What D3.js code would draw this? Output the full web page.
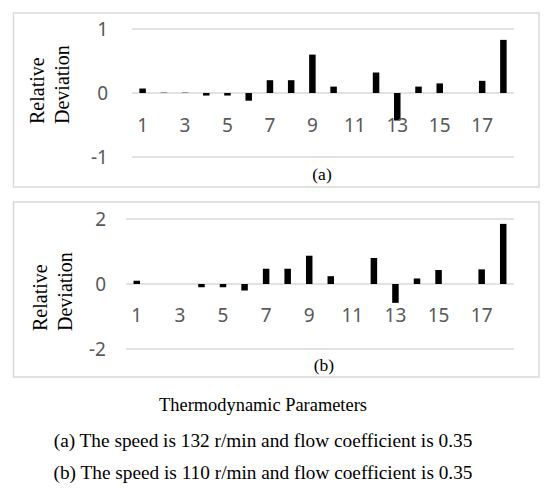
<!DOCTYPE html>
<html>
<head>
<meta charset="UTF-8">
<title>Relative Deviation</title>
<script src="https://d3js.org/d3.v7.min.js"></script>
<style>
    body { margin: 0; background: #fff; }
    .tick-label { font-family: "Noto Sans", sans-serif; font-size: 19px; fill: #595959; }
    .serif { font-family: "Liberation Serif", "Times New Roman", serif; fill: #000; }
</style>
</head>
<body>
<div id="chart"></div>
<script>
// parameters 1..18
const params = d3.range(1, 19);
const xTickLabels = ["1", "3", "5", "7", "9", "11", "13", "15", "17"];

// (a) 132 r/min, flow coefficient 0.35
const devA = [0.07, 0.005, 0.005, -0.04, -0.04, -0.12, 0.2, 0.2, 0.6, 0.1, 0, 0.32, -0.43, 0.1, 0.15, 0, 0.19, 0.83];
const yTicksA = [-1, 0, 1];

// (b) 110 r/min, flow coefficient 0.35
const devB = [0.1, 0, 0, -0.1, -0.1, -0.2, 0.47, 0.47, 0.87, 0.24, 0, 0.8, -0.58, 0.17, 0.43, 0, 0.45, 1.85];
const yTicksB = [-2, 0, 2];

const captions = [
    "Thermodynamic Parameters",
    "(a) The speed is 132 r/min and flow coefficient is 0.35",
    "(b) The speed is 110 r/min and flow coefficient is 0.35"
];

const width = 554, height = 499;

const svg = d3.select("#chart").append("svg")
    .attr("width", width)
    .attr("height", height);

svg.append("rect").attr("width", width).attr("height", height).attr("fill", "#fff");

function drawPanel(cfg) {
    const g = svg.append("g");

    // panel frame
    g.append("rect")
        .attr("x", 13.5).attr("y", cfg.top)
        .attr("width", 525.5).attr("height", cfg.bottom - cfg.top)
        .attr("fill", "none")
        .attr("stroke", "#d9d9d9")
        .attr("stroke-width", 1.5);

    const x = d3.scaleBand().domain(params).range(cfg.xRange).paddingInner(0);
    const y = d3.scaleLinear().domain(cfg.domain).range(cfg.yRange);

    // gridlines
    g.selectAll("line.grid")
        .data(cfg.ticks)
        .join("line")
        .attr("class", "grid")
        .attr("x1", cfg.xRange[0]).attr("x2", cfg.xRange[1])
        .attr("y1", d => y(d)).attr("y2", d => y(d))
        .attr("stroke", "#d9d9d9")
        .attr("stroke-width", 1.5);

    // y tick labels
    g.selectAll("text.ytick")
        .data(cfg.ticks)
        .join("text")
        .attr("class", "tick-label ytick")
        .attr("x", cfg.yLabelX)
        .attr("y", d => y(d))
        .attr("dy", "0.35em")
        .attr("text-anchor", "end")
        .text(d => d);

    // bars
    const bw = 6.5;
    g.selectAll("rect.bar")
        .data(cfg.values)
        .join("rect")
        .attr("class", "bar")
        .attr("x", (d, i) => x(params[i]) + x.bandwidth() / 2 - bw / 2)
        .attr("y", d => y(Math.max(0, d)))
        .attr("width", bw)
        .attr("height", d => Math.abs(y(d) - y(0)))
        .attr("fill", "#000");

    // x tick labels (odd parameters, sitting below the zero line)
    g.selectAll("text.xtick")
        .data(xTickLabels)
        .join("text")
        .attr("class", "tick-label xtick")
        .attr("x", d => x(+d) + x.bandwidth() / 2)
        .attr("y", y(0) + cfg.xLabelOffset)
        .attr("dy", "0.35em")
        .attr("text-anchor", "middle")
        .text(d => d);

    // axis title, two rotated lines
    ["Relative", "Deviation"].forEach((t, i) => {
        g.append("text")
            .attr("class", "serif")
            .attr("transform", `translate(${cfg.titleX[i]},${cfg.titleY}) rotate(-90)`)
            .attr("dy", "0.35em")
            .attr("font-size", 20)
            .attr("text-anchor", "start")
            .text(t);
    });

    // panel caption
    g.append("text")
        .attr("class", "serif")
        .attr("x", cfg.capX).attr("y", cfg.capY)
        .attr("dy", "0.35em")
        .attr("text-anchor", "middle")
        .attr("font-size", 17.5)
        .text(cfg.caption);
}

drawPanel({
    top: 13, bottom: 187,
    xRange: [132, 514], domain: [-1, 1], yRange: [157, 29],
    ticks: yTicksA, values: devA,
    yLabelX: 108, xLabelOffset: 32,
    titleX: [37, 62], titleY: 124,
    capX: 322, capY: 174, caption: "(a)"
});

drawPanel({
    top: 202, bottom: 377,
    xRange: [126, 514], domain: [-2, 2], yRange: [349, 219],
    ticks: yTicksB, values: devB,
    yLabelX: 106, xLabelOffset: 31,
    titleX: [40, 65], titleY: 331,
    capX: 324, capY: 365, caption: "(b)"
});

// bottom captions
svg.selectAll("text.caption")
    .data(captions)
    .join("text")
    .attr("class", "serif caption")
    .attr("x", 263)
    .attr("y", (d, i) => [405, 440, 472][i])
    .attr("dy", "0.35em")
    .attr("text-anchor", "middle")
    .attr("font-size", (d, i) => i === 0 ? 18.4 : 19.3)
    .text(d => d);
</script>
</body>
</html>
